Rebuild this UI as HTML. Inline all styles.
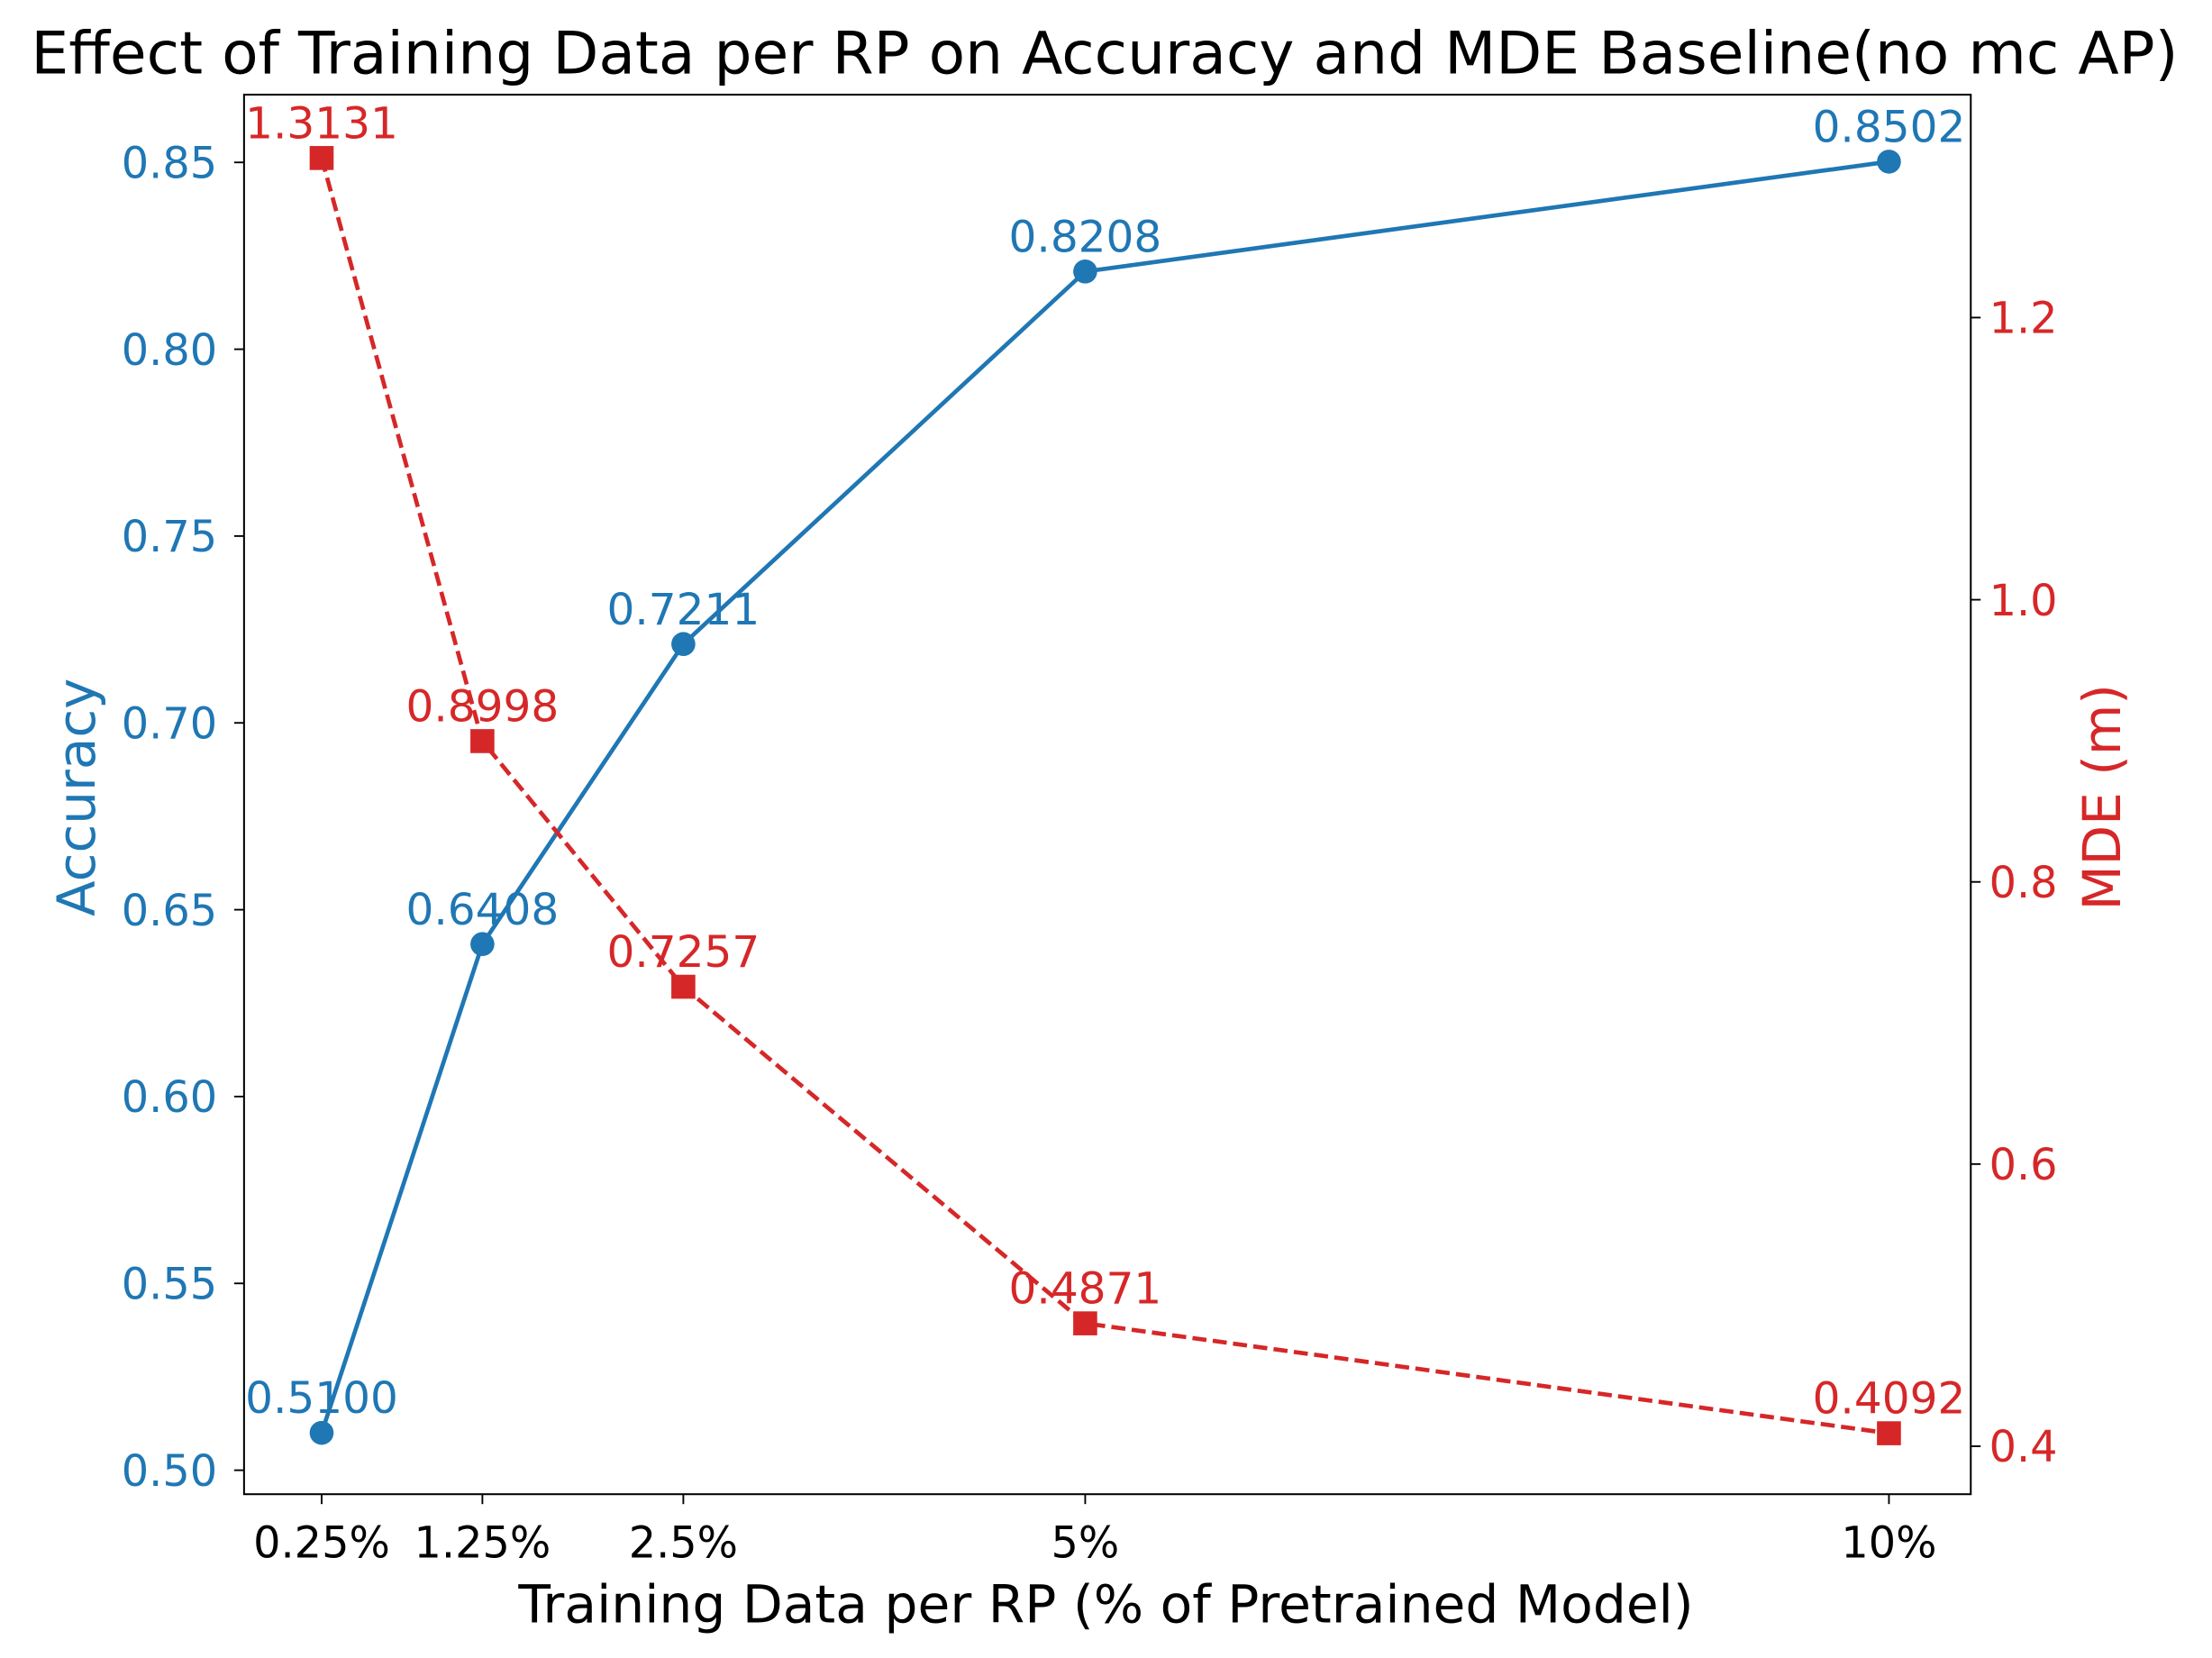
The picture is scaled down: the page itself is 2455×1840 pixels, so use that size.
<!DOCTYPE html>
<html><head><meta charset="utf-8"><style>
html,body{margin:0;padding:0;background:#fff;}
svg{display:block;}
text{font-family:"DejaVu Sans","Liberation Sans",sans-serif;}
</style></head><body>
<svg id="chart" width="2455" height="1840" viewBox="0 0 1568 1175" xmlns="http://www.w3.org/2000/svg">
<rect x="0" y="0" width="1568" height="1175" fill="#fff"/>
<text x="783" y="52" font-size="41.5" text-anchor="middle" fill="#000" textLength="1522" lengthAdjust="spacingAndGlyphs">Effect of Training Data per RP on Accuracy and MDE Baseline(no mc AP)</text>
<g id="plot"></g>
<rect x="173" y="67" width="1224" height="992" fill="none" stroke="#000" stroke-width="1.3"/>
<text x="784" y="1150" font-size="37" text-anchor="middle" fill="#000" textLength="833" lengthAdjust="spacingAndGlyphs">Training Data per RP (% of Pretrained Model)</text>
<text transform="translate(67,565) rotate(-90)" font-size="37" text-anchor="middle" fill="#1f77b4">Accuracy</text>
<text transform="translate(1503,565) rotate(-90)" font-size="37" text-anchor="middle" fill="#d62728">MDE (m)</text>
</svg>
<script>
const xValues = [0.25, 1.25, 2.5, 5, 10];
const xTickLabels = ["0.25%", "1.25%", "2.5%", "5%", "10%"];
const accuracy = [0.5100, 0.6408, 0.7211, 0.8208, 0.8502];
const mde = [1.3131, 0.8998, 0.7257, 0.4871, 0.4092];
const accTicks = [0.50, 0.55, 0.60, 0.65, 0.70, 0.75, 0.80, 0.85];
const mdeTicks = [0.4, 0.6, 0.8, 1.0, 1.2];

const NS = "http://www.w3.org/2000/svg";
const g = document.getElementById("plot");
const xS = v => 228 + (v - 0.25) * (1339 - 228) / (10 - 0.25);
const yL = v => 1042 - (v - 0.50) * (1042 - 115) / 0.35;
const yR = v => 1025 - (v - 0.4) * (1025 - 225) / 0.8;
function el(tag, attrs, txt) {
  const e = document.createElementNS(NS, tag);
  for (const k in attrs) e.setAttribute(k, attrs[k]);
  if (txt !== undefined) e.textContent = txt;
  g.appendChild(e);
  return e;
}
xValues.forEach((v, i) => {
  const x = xS(v);
  const t = el("line", {x1: x, x2: x, y1: 1059, y2: 1066, stroke: "#000", "stroke-width": 1.2});
  
  
  const l = el("text", {x: x, y: 1104, "font-size": 30.5, "text-anchor": "middle", fill: "#000"}, xTickLabels[i]);
  
  
});
accTicks.forEach(v => {
  const y = yL(v);
  const t = el("line", {x1: 166, x2: 173, y1: y, y2: y, stroke: "#000", "stroke-width": 1.2});
  
  
  const l = el("text", {x: 154, y: y + 11, "font-size": 30.5, "text-anchor": "end", fill: "#1f77b4"}, v.toFixed(2));
  
  
});
mdeTicks.forEach(v => {
  const y = yR(v);
  const t = el("line", {x1: 1397, x2: 1404, y1: y, y2: y, stroke: "#000", "stroke-width": 1.2});
  
  
  const l = el("text", {x: 1410, y: y + 11, "font-size": 30.5, "text-anchor": "start", fill: "#d62728"}, v.toFixed(1));
  
  
});
const accPts = xValues.map((v, i) => xS(v) + "," + yL(accuracy[i])).join(" ");
const al = el("polyline", {points: accPts, fill: "none", stroke: "#1f77b4", "stroke-width": 3});


const mdePts = xValues.map((v, i) => xS(v) + "," + yR(mde[i])).join(" ");
const ml = el("polyline", {points: mdePts, fill: "none", stroke: "#d62728", "stroke-width": 3, "stroke-dasharray": "10,4.5"});


xValues.forEach((v, i) => {
  const x = xS(v), ya = yL(accuracy[i]), yr = yR(mde[i]);
  const c = el("circle", {cx: x, cy: ya, r: 8.5, fill: "#1f77b4"});
  
  
  const s = el("rect", {x: x - 8.5, y: yr - 8.5, width: 17, height: 17, fill: "#d62728"});
  
  
  const ta = el("text", {x: x, y: ya - 14, "font-size": 31, "text-anchor": "middle", fill: "#1f77b4"}, accuracy[i].toFixed(4));
  
  
  const tr = el("text", {x: x, y: yr - 14, "font-size": 31, "text-anchor": "middle", fill: "#d62728"}, mde[i].toFixed(4));
  
  
});
</script>
</body></html>
